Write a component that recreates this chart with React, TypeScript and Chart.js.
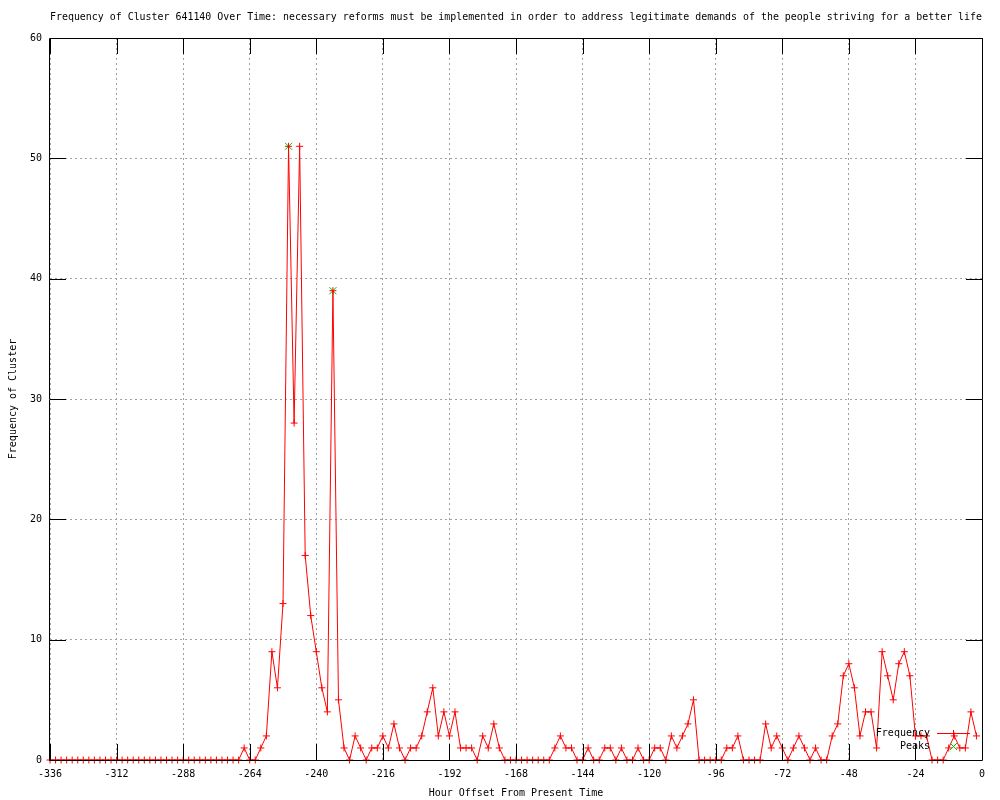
import React, { useEffect, useRef } from "react";
import { Chart, registerables } from "chart.js";

Chart.register(...registerables);

// ---- data ----
const titleText =
  "Frequency of Cluster 641140 Over Time: necessary reforms must be implemented in order to address legitimate demands of the people striving for a better life";
const xTitle = "Hour Offset From Present Time";
const yTitle = "Frequency of Cluster";

const hours: number[] = [
  -336, -334, -332, -330, -328, -326, -324, -322, -320, -318, -316, -314,
  -312, -310, -308, -306, -304, -302, -300, -298, -296, -294, -292, -290,
  -288, -286, -284, -282, -280, -278, -276, -274, -272, -270, -268, -266,
  -264, -262, -260, -258, -256, -254, -252, -250, -248, -246, -244, -242,
  -240, -238, -236, -234, -232, -230, -228, -226, -224, -222, -220, -218,
  -216, -214, -212, -210, -208, -206, -204, -202, -200, -198, -196, -194,
  -192, -190, -188, -186, -184, -182, -180, -178, -176, -174, -172, -170,
  -168, -166, -164, -162, -160, -158, -156, -154, -152, -150, -148, -146,
  -144, -142, -140, -138, -136, -134, -132, -130, -128, -126, -124, -122,
  -120, -118, -116, -114, -112, -110, -108, -106, -104, -102, -100, -98,
  -96, -94, -92, -90, -88, -86, -84, -82, -80, -78, -76, -74,
  -72, -70, -68, -66, -64, -62, -60, -58, -56, -54, -52, -50,
  -48, -46, -44, -42, -40, -38, -36, -34, -32, -30, -28, -26,
  -24, -22, -20, -18, -16, -14, -12, -10, -8, -6, -4, -2,
];

const frequency: number[] = [
  0, 0, 0, 0, 0, 0, 0, 0, 0, 0, 0, 0,
  0, 0, 0, 0, 0, 0, 0, 0, 0, 0, 0, 0,
  0, 0, 0, 0, 0, 0, 0, 0, 0, 0, 0, 1,
  0, 0, 1, 2, 9, 6, 13, 51, 28, 51, 17, 12,
  9, 6, 4, 39, 5, 1, 0, 2, 1, 0, 1, 1,
  2, 1, 3, 1, 0, 1, 1, 2, 4, 6, 2, 4,
  2, 4, 1, 1, 1, 0, 2, 1, 3, 1, 0, 0,
  0, 0, 0, 0, 0, 0, 0, 1, 2, 1, 1, 0,
  0, 1, 0, 0, 1, 1, 0, 1, 0, 0, 1, 0,
  0, 1, 1, 0, 2, 1, 2, 3, 5, 0, 0, 0,
  0, 0, 1, 1, 2, 0, 0, 0, 0, 3, 1, 2,
  1, 0, 1, 2, 1, 0, 1, 0, 0, 2, 3, 7,
  8, 6, 2, 4, 4, 1, 9, 7, 5, 8, 9, 7,
  2, 2, 2, 0, 0, 0, 1, 2, 1, 1, 4, 2,
];

const peakHours: number[] = [-250, -234];
const peakValues: number[] = [51, 39];

const xTicksMin = -336;
const xTicksMax = 0;
const xTickStep = 24;
const yTicksMin = 0;
const yTicksMax = 60;
const yTickStep = 10;

const RED = "#ff0000";
const GREEN = "#00c000";
const FONT = "'DejaVu Sans Mono', 'Liberation Mono', monospace";

const framePlugin = {
  id: "gnuFrame",
  afterDatasetsDraw(chart: any) {
    const { ctx, chartArea, scales } = chart;
    const left = Math.round(chartArea.left);
    const right = Math.round(chartArea.right);
    const top = Math.round(chartArea.top);
    const bottom = Math.round(chartArea.bottom);
    const tl = 16;
    ctx.save();
    ctx.strokeStyle = "#000";
    ctx.lineWidth = 1;
    ctx.beginPath();
    ctx.rect(left - 0.5, top + 0.5, right - left + 1, bottom - top);
    ctx.stroke();
    ctx.beginPath();
    for (const t of scales.x.ticks) {
      const px = Math.round(scales.x.getPixelForValue(t.value)) + 0.5;
      ctx.moveTo(px, bottom);
      ctx.lineTo(px, bottom - tl);
      ctx.moveTo(px, top);
      ctx.lineTo(px, top + tl);
    }
    for (const t of scales.y.ticks) {
      const py = Math.round(scales.y.getPixelForValue(t.value)) + 0.5;
      ctx.moveTo(left, py);
      ctx.lineTo(left + tl, py);
      ctx.moveTo(right, py);
      ctx.lineTo(right - tl, py);
    }
    ctx.stroke();

    // key (legend) inside the plot, bottom right
    const ds = chart.data.datasets;
    ctx.font = `10px ${FONT}`;
    ctx.fillStyle = "#000";
    ctx.textAlign = "right";
    ctx.textBaseline = "middle";
    const textX = right - 52;
    const s0 = right - 45;
    const s1 = right - 12;
    const mx = (s0 + s1) / 2;
    const y1 = bottom - 27 + 0.5;
    const y2 = bottom - 14 + 0.5;
    ctx.fillText(ds[0].label, textX, y1);
    ctx.fillText(ds[1].label, textX, y2);
    ctx.strokeStyle = RED;
    ctx.beginPath();
    ctx.moveTo(s0, y1);
    ctx.lineTo(s1, y1);
    ctx.moveTo(mx - 3.5, y1);
    ctx.lineTo(mx + 3.5, y1);
    ctx.moveTo(mx, y1 - 3.5);
    ctx.lineTo(mx, y1 + 3.5);
    ctx.stroke();
    ctx.strokeStyle = GREEN;
    ctx.beginPath();
    ctx.moveTo(mx - 3.5, y2 - 3.5);
    ctx.lineTo(mx + 3.5, y2 + 3.5);
    ctx.moveTo(mx - 3.5, y2 + 3.5);
    ctx.lineTo(mx + 3.5, y2 - 3.5);
    ctx.stroke();
    ctx.restore();
  },
};

export default function App() {
  const ref = useRef<HTMLCanvasElement | null>(null);

  useEffect(() => {
    document.body.style.margin = "0";
    if (!ref.current) return;
    Chart.defaults.font.family = FONT;
    Chart.defaults.font.size = 10;
    Chart.defaults.color = "#000";

    const chart = new Chart(ref.current, {
      type: "line",
      data: {
        datasets: [
          {
            label: "Frequency",
            data: hours.map((h, i) => ({ x: h, y: frequency[i] })),
            borderColor: RED,
            borderWidth: 1,
            pointStyle: "cross",
            pointRadius: 3.5,
            pointBorderColor: RED,
            pointBorderWidth: 1,
            pointHoverRadius: 3.5,
            tension: 0,
            fill: false,
            clip: false,
          },
          {
            label: "Peaks",
            data: peakHours.map((h, i) => ({ x: h, y: peakValues[i] })),
            showLine: false,
            pointStyle: "crossRot",
            pointRadius: 5,
            pointBorderColor: GREEN,
            pointBorderWidth: 1,
            clip: false,
          },
        ],
      },
      options: {
        animation: false,
        responsive: true,
        maintainAspectRatio: false,
        devicePixelRatio: 1,
        events: [],
        layout: { padding: { left: 0, right: 18, top: 0, bottom: 0 } },
        plugins: {
          legend: { display: false },
          tooltip: { enabled: false },
          title: {
            display: true,
            text: titleText,
            fullSize: false,
            color: "#000",
            font: { family: FONT, size: 10, weight: "normal" },
            padding: { top: 11, bottom: 15 },
          },
        },
        scales: {
          x: {
            type: "linear",
            min: xTicksMin,
            max: xTicksMax,
            afterFit: (s: any) => {
              s.height = 40;
            },
            ticks: {
              stepSize: xTickStep,
              maxRotation: 0,
              autoSkip: false,
              padding: 8,
              color: "#000",
              font: { family: FONT, size: 10 },
            },
            grid: {
              color: "#a0a0a0",
              lineWidth: 1,
              drawTicks: false,
              borderDash: [2, 3],
            },
            border: { display: false, dash: [2, 3] },
            title: {
              display: true,
              text: xTitle,
              color: "#000",
              font: { family: FONT, size: 10 },
              padding: { top: 0, bottom: 1 },
            },
          },
          y: {
            type: "linear",
            min: yTicksMin,
            max: yTicksMax,
            afterFit: (s: any) => {
              s.width = 50;
            },
            ticks: {
              stepSize: yTickStep,
              padding: 8,
              color: "#000",
              font: { family: FONT, size: 10 },
            },
            grid: {
              color: "#a0a0a0",
              lineWidth: 1,
              drawTicks: false,
              borderDash: [2, 3],
            },
            border: { display: false, dash: [2, 3] },
            title: {
              display: true,
              text: yTitle,
              color: "#000",
              font: { family: FONT, size: 10 },
              padding: { top: 7, bottom: 0 },
            },
          },
        },
      },
      plugins: [framePlugin],
    } as any);

    return () => chart.destroy();
  }, []);

  return (
    <div style={{ width: "1000px", height: "800px", position: "relative", background: "#fff" }}>
      <canvas ref={ref} />
    </div>
  );
}
